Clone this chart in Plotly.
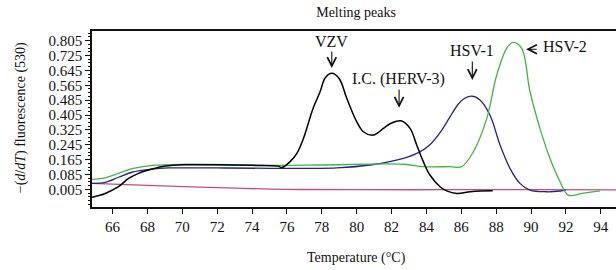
import plotly.graph_objects as go

# ---- data ----
vzv_T = [64.82, 65.58, 66.34, 66.92, 67.49, 68.26, 69.02, 70.17, 72.0, 74.0, 75.5, 75.7, 76.18, 76.57,
         76.95, 77.5, 77.9, 78.19, 78.57, 79.0, 79.43, 80.0, 80.38, 80.96, 81.53, 82.0, 82.54, 83.06,
         83.44, 83.82, 84.2, 84.78, 85.16, 85.74, 86.5, 87.1, 87.8]
vzv_y = [-0.038, -0.017, 0.019, 0.064, 0.091, 0.114, 0.130, 0.137, 0.137, 0.134, 0.130, 0.122, 0.154, 0.199,
         0.280, 0.441, 0.530, 0.604, 0.629, 0.600, 0.495, 0.369, 0.315, 0.297, 0.333, 0.362, 0.374, 0.333,
         0.244, 0.154, 0.082, 0.019, -0.003, -0.017, -0.008, -0.004, -0.003]

hsv1_T = [64.82, 65.58, 66.34, 67.11, 68.26, 69.2, 72.0, 75.04, 78.86, 80.77, 82.68, 83.6, 84.2, 84.78,
          85.35, 85.8, 86.11, 86.6, 87.07, 87.64, 88.22, 88.79, 89.36, 89.94, 90.89, 91.66, 92.0]
hsv1_y = [0.037, 0.043, 0.070, 0.097, 0.114, 0.120, 0.120, 0.118, 0.121, 0.136, 0.172, 0.205, 0.245, 0.310,
          0.395, 0.460, 0.490, 0.507, 0.486, 0.405, 0.244, 0.118, 0.037, 0.001, -0.008, -0.004, 0.002]

hsv2_T = [64.82, 65.58, 66.34, 67.11, 68.26, 70.17, 75.5, 78.0, 82.68, 83.82, 85.35, 86.02, 86.69, 87.46,
          88.03, 88.6, 88.98, 89.46, 89.94, 90.51, 91.08, 91.66, 92.13, 93.0, 93.95]
hsv2_y = [0.059, 0.067, 0.091, 0.116, 0.134, 0.140, 0.134, 0.136, 0.140, 0.127, 0.127, 0.127, 0.207, 0.387,
          0.620, 0.764, 0.796, 0.764, 0.530, 0.333, 0.172, 0.046, -0.026, -0.015, -0.003]

ntc_T = [64.82, 68.0, 72.0, 75.9, 80.0, 85.0, 90.0, 94.9]
ntc_y = [0.037, 0.026, 0.014, 0.005, 0.003, 0.003, 0.003, 0.002]

x_ticks = [66, 68, 70, 72, 74, 76, 78, 80, 82, 84, 86, 88, 90, 92, 94]
y_ticks = [0.005, 0.085, 0.165, 0.245, 0.325, 0.405, 0.485, 0.565, 0.645, 0.725, 0.805]

labels = ["VZV", "I.C. (HERV-3)", "HSV-1", "HSV-2"]

FONT = "Liberation Serif"
INK = "#111"

fig = go.Figure()
fig.add_trace(go.Scatter(x=ntc_T, y=ntc_y, mode="lines", line=dict(color="#c2507a", width=1.3, shape="spline")))
fig.add_trace(go.Scatter(x=hsv1_T, y=hsv1_y, mode="lines", line=dict(color="#23238a", width=1.3, shape="spline")))
fig.add_trace(go.Scatter(x=hsv2_T, y=hsv2_y, mode="lines", line=dict(color="#3cb83c", width=1.3, shape="spline")))
fig.add_trace(go.Scatter(x=vzv_T, y=vzv_y, mode="lines", line=dict(color="#000000", width=1.5, shape="spline")))

ann_font = dict(family=FONT, size=16, color=INK)
annotations = []
# text labels
for txt, x, y in [(labels[0], 78.57, 0.800), (labels[1], 82.39, 0.597),
                  (labels[2], 86.62, 0.750), (labels[3], 91.94, 0.773)]:
    annotations.append(dict(x=x, y=y, text=txt, font=ann_font, showarrow=False,
                            xref="x", yref="y", xanchor="center", yanchor="middle"))
# arrows (tip x,y ; tail ax,ay)
for x, y, ax, ay in [(78.57, 0.658, 78.57, 0.755), (82.43, 0.444, 82.43, 0.550),
                     (86.63, 0.593, 86.63, 0.701), (89.71, 0.759, 90.41, 0.759)]:
    annotations.append(dict(x=x, y=y, ax=ax, ay=ay, axref="x", ayref="y", xref="x", yref="y",
                            text="", showarrow=True, arrowhead=5, arrowsize=1.6, arrowwidth=1.1,
                            arrowcolor=INK, startstandoff=0, standoff=0))
# axis titles
annotations.append(dict(x=0.505, y=-0.29, xref="paper", yref="paper", showarrow=False,
                        text="Temperature (°C)", font=dict(family=FONT, size=14, color=INK),
                        xanchor="center", yanchor="middle"))
annotations.append(dict(x=-0.134, y=0.509, xref="paper", yref="paper", showarrow=False, textangle=-90,
                        text="−(<i>d</i>/<i>dT</i>) fluorescence (530)",
                        font=dict(family=FONT, size=14, color=INK), xanchor="center", yanchor="middle"))

fig.update_layout(
    width=616, height=270,
    margin=dict(l=92, r=0, t=31, b=63),
    paper_bgcolor="white", plot_bgcolor="white",
    showlegend=False,
    font=dict(family=FONT, size=14, color=INK),
    title=dict(text="Melting peaks", x=0.578, xanchor="center", y=0.954, yanchor="middle",
               font=dict(family=FONT, size=14, color=INK)),
    annotations=annotations,
    xaxis=dict(range=[64.82, 94.87], tickvals=x_ticks, ticks="outside", ticklen=5, automargin=False,
               tickcolor=INK, showline=True, linecolor=INK, linewidth=1.5, mirror=True,
               showgrid=False, zeroline=False, tickfont=dict(family=FONT, size=15)),
    yaxis=dict(range=[-0.090, 0.857], tickvals=y_ticks, ticktext=[f"{v:.3f}" for v in y_ticks],
               ticks="outside", ticklen=5, tickcolor=INK, showline=True, linecolor=INK, automargin=False,
               linewidth=1.5, mirror=False, showgrid=False, zeroline=False,
               tickfont=dict(family=FONT, size=15),
               minor=dict(dtick=0.02, tick0=0.005, ticks="outside", ticklen=2.5, tickcolor=INK)),
)

fig.write_html("out.html", config={"displayModeBar": False},
               post_script="document.body.style.margin='0';document.body.style.padding='0';")
